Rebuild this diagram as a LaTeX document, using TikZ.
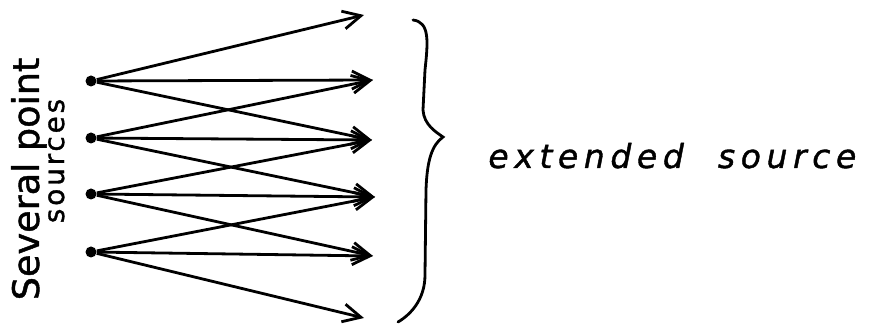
\documentclass[tikz,border=0pt]{standalone}
\usepackage{fontspec}
\usetikzlibrary{arrows.meta}
\newfontfamily\labelfont[FakeBold=1.2]{DejaVu Sans}
\newfontfamily\smalllabelfont[LetterSpace=10, FakeBold=1.2]{DejaVu Sans}
\newfontfamily\sidefont[LetterSpace=17, FakeBold=1.2]{DejaVu Sans}
\tikzset{
  source/.style={circle, fill, inner sep=0pt, minimum size=5.5pt},
  ray/.style={line width=1.4pt, -{Straight Barb[length=9pt, width=9pt, line width=1.4pt]}}
}
\begin{document}
\begin{tikzpicture}[x=0.5pt, y=-0.5pt]
    \useasboundingbox (0,0) rectangle (875,325);

    % Define the point sources
    \node[source] (S1) at (91,81) {};
    \node[source] (S2) at (91,138) {};
    \node[source] (S3) at (91,194) {};
    \node[source] (S4) at (91,252) {};

    % Define the ends of the rays
    \coordinate (T0) at (364,15);
    \coordinate (T1) at (373,80);
    \coordinate (T2) at (372,140);
    \coordinate (T3) at (375,197);
    \coordinate (T4) at (373,256);
    \coordinate (T5) at (364,318);

    % Draw the rays from each source
    \draw[ray] (S1) -- (T0);
    \draw[ray] (S1) -- (T1);
    \draw[ray] (S1) -- (T2);
    \draw[ray] (S2) -- (T1);
    \draw[ray] (S2) -- (T2);
    \draw[ray] (S2) -- (T3);
    \draw[ray] (S3) -- (T2);
    \draw[ray] (S3) -- (T3);
    \draw[ray] (S3) -- (T4);
    \draw[ray] (S4) -- (T3);
    \draw[ray] (S4) -- (T4);
    \draw[ray] (S4) -- (T5);

    % Draw the brace
    \draw[line width=1.4pt, line cap=round]
      (413,20) .. controls (430,22) and (428,42) .. (425,70)
      -- (423,110) .. controls (424,125) and (436,132) .. (443,137)
      .. controls (432,145) and (427,160) .. (426,190)
      -- (425,275) .. controls (425,300) and (410,315) .. (398,322);

    % Place the labels
    \node[rotate=90, anchor=base, font=\labelfont\fontsize{18.3pt}{20pt}\selectfont]
      (several) at (39,179) {Several point};
    \node[rotate=90, anchor=base, font=\smalllabelfont\fontsize{14pt}{16pt}\selectfont]
      (sources) at (64,161) {sources};
    \node[anchor=base west, inner sep=0pt, font=\sidefont\itshape\fontsize{16.5pt}{19pt}\selectfont]
      (extended) at (488,168) {extended\hskip 9pt\ source};
\end{tikzpicture}
\end{document}
